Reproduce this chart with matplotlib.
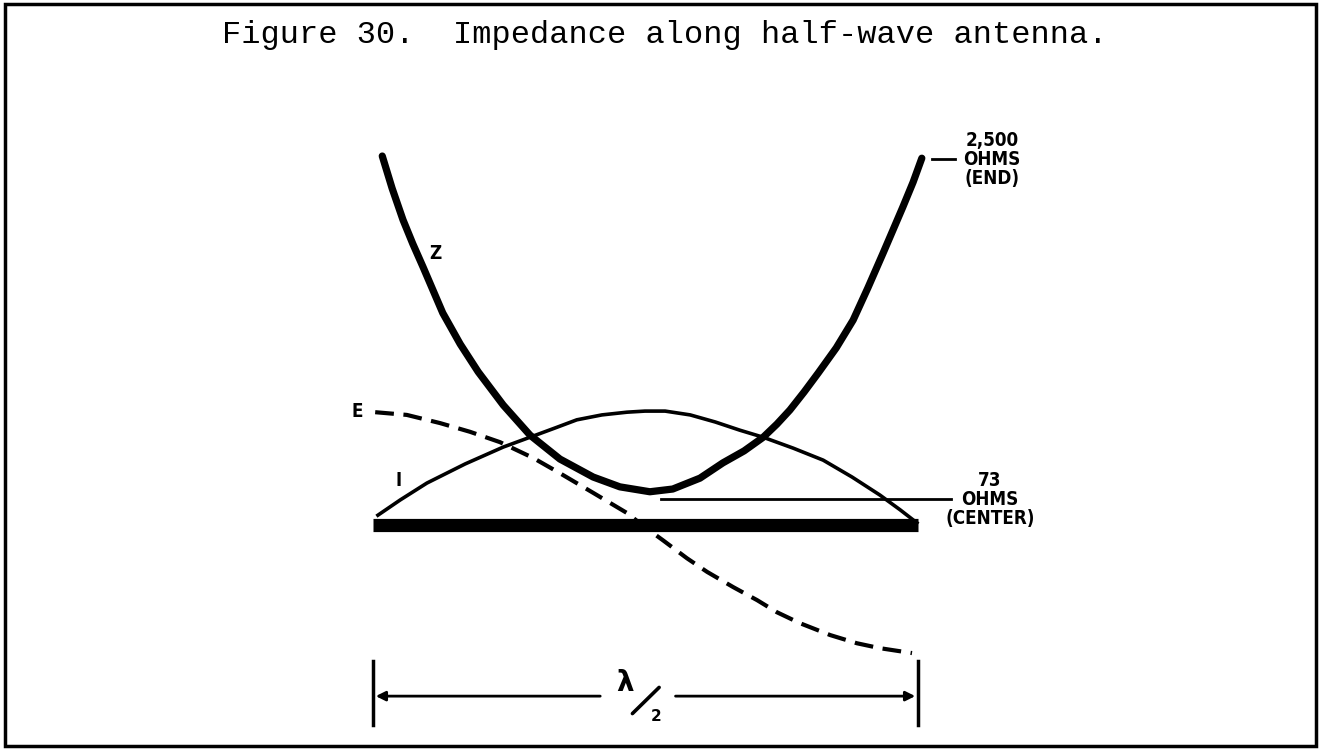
import matplotlib.pyplot as plt
from matplotlib.patches import Rectangle
import numpy as np

# posicao ao longo da antena (0 = ponta esquerda, 1 = ponta direita, lambda/2)
# alturas na mesma unidade, com a antena em y = 0

# impedancia Z (curva grossa)
z_pos = [0.017, 0.035, 0.055, 0.073, 0.092, 0.110, 0.128, 0.160, 0.193,
         0.239, 0.288, 0.343, 0.404, 0.453, 0.508, 0.550, 0.600, 0.642,
         0.681, 0.716, 0.741, 0.765, 0.791, 0.817, 0.850, 0.881, 0.908,
         0.936, 0.954, 0.972, 0.991, 1.007]
z_val = [0.677, 0.618, 0.560, 0.516, 0.473, 0.431, 0.389, 0.332, 0.281,
         0.220, 0.165, 0.121, 0.088, 0.070, 0.061, 0.066, 0.086, 0.114,
         0.136, 0.161, 0.185, 0.211, 0.244, 0.279, 0.325, 0.376, 0.435,
         0.499, 0.541, 0.583, 0.629, 0.673]

# corrente I
i_pos = [0.009, 0.050, 0.099, 0.169, 0.239, 0.288, 0.334, 0.374, 0.420,
         0.466, 0.499, 0.536, 0.582, 0.628, 0.673, 0.716, 0.771, 0.826,
         0.879, 0.930, 0.967, 0.998]
i_val = [0.018, 0.046, 0.077, 0.112, 0.143, 0.161, 0.178, 0.193, 0.202,
         0.207, 0.209, 0.209, 0.202, 0.189, 0.174, 0.161, 0.141, 0.119,
         0.088, 0.055, 0.028, 0.004]

# tensao E (tracejada)
e_pos = [0.004, 0.062, 0.123, 0.178, 0.233, 0.294, 0.343, 0.404, 0.466,
         0.499, 0.532, 0.576, 0.613, 0.661, 0.705, 0.741, 0.783, 0.839,
         0.888, 0.930, 0.989]
e_val = [0.207, 0.202, 0.187, 0.171, 0.152, 0.123, 0.095, 0.059, 0.022,
         -0.004, -0.028, -0.061, -0.086, -0.114, -0.138, -0.160, -0.180,
         -0.202, -0.217, -0.226, -0.235]

antenna = [0.0, 1.0]

end_label = "2,500\nOHMS\n(END)"
center_label = "73\nOHMS\n(CENTER)"
title = "Figure 30.  Impedance along half-wave antenna."

# 545 px por unidade, antena comeca em x=373 px e fica em y=525 px
W, H = 1321, 749
PX = 545.0
X0, Y0 = 373, 525

fig = plt.figure(figsize=(W / 100, H / 100), dpi=100)
ax = fig.add_axes([0, 0, 1, 1])
ax.set_xlim(-X0 / PX, (W - X0) / PX)
ax.set_ylim(-(H - Y0) / PX, Y0 / PX)
ax.axis('off')

# moldura
fig.patches.append(Rectangle((0.004, 0.004), 0.992, 0.99, transform=fig.transFigure,
                             fill=False, lw=2.5, ec='black'))

fig.text(0.503, 0.953, title, family='Liberation Mono', fontsize=23,
         ha='center', va='center')

# antena
ax.plot(antenna, [0, 0], color='black', lw=9.5, solid_capstyle='butt')

ax.plot(z_pos, z_val, color='black', lw=5.2, solid_capstyle='round',
        solid_joinstyle='round')
ax.plot(i_pos, i_val, color='black', lw=2.6, solid_joinstyle='round')
ax.plot(e_pos, e_val, color='black', lw=3.0, dashes=(4.5, 2.3),
        dash_capstyle='butt')

# linhas das legendas 2500 e 73 ohms
ax.plot([1.026, 1.068], [0.672, 0.672], color='black', lw=2)
ax.plot([0.528, 1.061], [0.048, 0.048], color='black', lw=2)

lab = dict(fontweight='heavy', fontstretch='condensed', fontsize=13.5,
           ha='center', va='center', linespacing=1.0)
ax.text(1.136, 0.670, end_label, **lab)
ax.text(1.132, 0.046, center_label, **lab)
ax.text(0.114, 0.499, 'Z', **lab)
ax.text(-0.029, 0.209, 'E', **lab)
ax.text(0.046, 0.081, 'I', **lab)

# cota lambda/2
for xb in antenna:
    ax.plot([xb, xb], [-0.250, -0.367], color='black', lw=2.5)
ax.annotate('', xy=(0.0, -0.314), xytext=(0.422, -0.314),
            arrowprops=dict(arrowstyle='-|>', color='black', lw=2,
                            mutation_scale=14))
ax.annotate('', xy=(1.0, -0.314), xytext=(0.550, -0.314),
            arrowprops=dict(arrowstyle='-|>', color='black', lw=2,
                            mutation_scale=14))
ax.text(0.462, -0.289, 'λ', fontsize=20, fontweight='bold',
        ha='center', va='center')
# barra da fracao
ax.plot([0.476, 0.525], [-0.346, -0.298], color='black', lw=2.6,
        solid_capstyle='round')
ax.text(0.520, -0.352, '2', fontsize=11, fontweight='bold',
        ha='center', va='center')

fig.savefig('out.png', dpi=100)
